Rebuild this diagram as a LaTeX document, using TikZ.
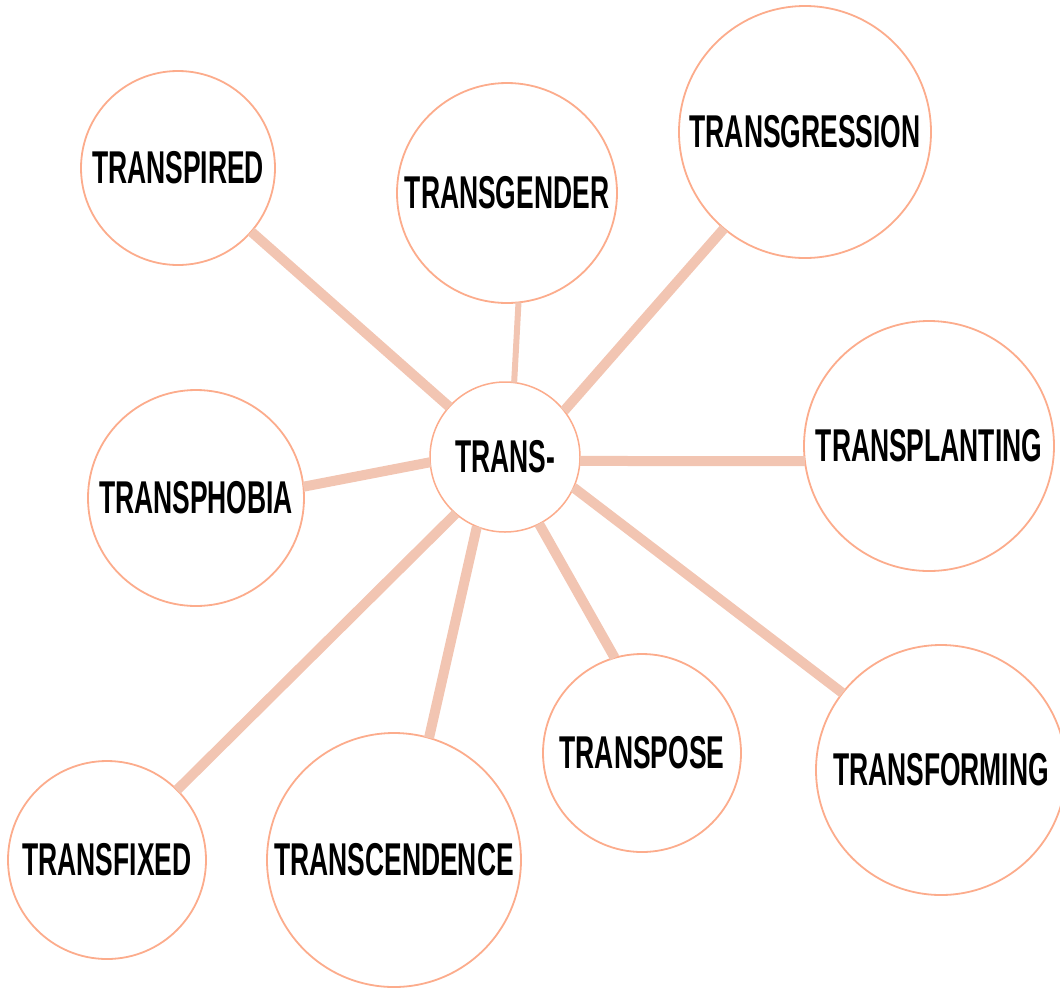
\documentclass[tikz,border=0pt]{standalone}
\usepackage{fontspec}
\newfontfamily\lblfont{Liberation Sans}[FakeStretch=0.575]
\definecolor{ring}{RGB}{252,172,140}
\definecolor{spoke}{RGB}{242,197,178}
\tikzset{
  bubble/.style={circle, draw=ring, line width=1.8pt, fill=white, inner sep=0pt, outer sep=0pt,
    font=\lblfont\bfseries\fontsize{46}{46}\selectfont, text=black},
  spokeline/.style={draw=spoke, line width=10pt, line cap=butt},
  thinspoke/.style={draw=spoke, line width=6pt, line cap=butt}
}
\begin{document}
\begin{tikzpicture}[x=1pt,y=-1pt]
\useasboundingbox (0,0) rectangle (1060,989);
\clip (0,0) rectangle (1060,989);
% nodes
\node[bubble, minimum size=150pt, line width=1.5pt] (trans) at (505,457) {TRANS-};
\node[bubble, minimum size=194pt] (spired) at (178,168) {TRANSPIRED};
\node[bubble, minimum size=220pt] (gender) at (507,193) {TRANSGENDER};
\node[bubble, minimum size=252pt] (gress) at (805,132) {TRANSGRESSION};
\node[bubble, minimum size=250pt] (plant) at (929,446) {TRANSPLANTING};
\node[bubble, minimum size=216pt] (phobia) at (196,498) {TRANSPHOBIA};
\node[bubble, minimum size=250pt] (form) at (941,770) {TRANSFORMING};
\node[bubble, minimum size=198pt] (pose) at (642,753) {TRANSPOSE};
\node[bubble, minimum size=254pt] (scend) at (394,860) {TRANSCENDENCE};
\node[bubble, minimum size=198pt] (fixed) at (107,860) {TRANSFIXED};
% connectors
\draw[spokeline] (spired.-41.6) -- (trans.138.8);
\draw[thinspoke] (gender.-84.9) -- (trans.83.2);
\draw[spokeline] (gress.-130.9) -- (trans.38.5);
\draw[spokeline] (plant.187.4) -- (trans.-3.8);
\draw[spokeline] (phobia.6.7) -- (trans.184.7);
\draw[spokeline] (form.142) -- (trans.-24.3);
\draw[spokeline] (pose.106.5) -- (trans.-63.4);
\draw[spokeline] (scend.74.2) -- (trans.-112.5);
\draw[spokeline] (fixed.45) -- (trans.-131.8);
\end{tikzpicture}
\end{document}
